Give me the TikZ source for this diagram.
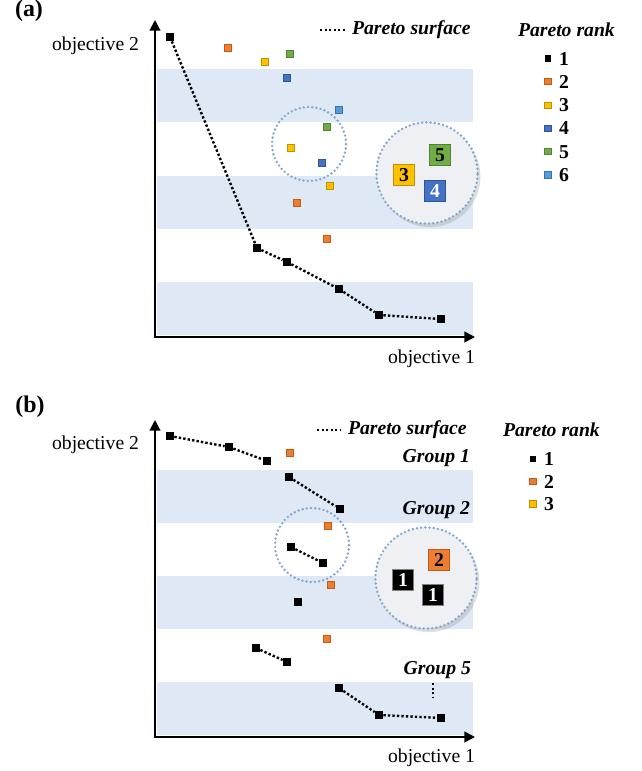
\documentclass[tikz,border=0pt]{standalone}
\usepackage{fontspec}
\setmainfont{Liberation Serif}
\newcommand*{\plotfont}{\fontsize{14}{16}\selectfont}
\newcommand*{\tagfont}{\fontsize{17}{19}\selectfont\bfseries}
\definecolor{O}{HTML}{ED7D31}
\definecolor{Od}{HTML}{C55A11}
\definecolor{Y}{HTML}{FFC000}
\definecolor{Yd}{HTML}{BF9000}
\definecolor{B}{HTML}{4472C4}
\definecolor{Bd}{HTML}{2F5597}
\definecolor{G}{HTML}{70AD47}
\definecolor{Gd}{HTML}{548235}
\definecolor{L}{HTML}{5B9BD5}
\definecolor{Ld}{HTML}{2E75B6}
\definecolor{band}{HTML}{DEE9F5}
\definecolor{ring}{HTML}{7FA6D0}
\definecolor{lens}{HTML}{EEF0F3}
\usepackage{tikz}
\usetikzlibrary{arrows.meta}
\usetikzlibrary{shadows}
\tikzstyle{base}=[inner sep=0pt, outer sep=0pt, x=0.025cm, y=-0.025cm, font=\plotfont]
\tikzstyle{axis}=[black, line width=1.4pt, {Triangle[length=7.5pt,width=7.5pt]}-{Triangle[length=7.5pt,width=7.5pt]}]
\tikzstyle{front}=[black, line width=1.7pt, dash pattern=on 1.7pt off 1.5pt]
\tikzstyle{pt}=[rectangle, minimum size=5pt, line width=.7pt]
\tikzstyle{r1}=[pt, fill=black, minimum size=6.2pt]
\tikzstyle{r2}=[pt, fill=O, draw=Od]
\tikzstyle{r3}=[pt, fill=Y, draw=Yd]
\tikzstyle{r4}=[pt, fill=B, draw=Bd]
\tikzstyle{r5}=[pt, fill=G, draw=Gd]
\tikzstyle{r6}=[pt, fill=L, draw=Ld]
\tikzstyle{leg}=[minimum size=4.3pt]
\tikzstyle{hoop}=[circle, draw=ring, line width=1.9pt, dash pattern=on 0pt off 3pt, line cap=round]
\tikzstyle{glass}=[hoop, fill=lens, minimum size=72pt,
  drop shadow={opacity=.25, shadow xshift=2pt, shadow yshift=-2.5pt}]
\tikzstyle{tag}=[pt, minimum size=15pt, font=\plotfont\bfseries]
\tikzstyle{bi}=[font=\plotfont\bfseries\itshape]

\begin{document}
\begin{tikzpicture}[base]
    \useasboundingbox (0,0) rectangle (641,771);
    % (a) ranks by Pareto surface
    \foreach \t in {69,176,282}
        \fill [band] (157,\t) rectangle (473,\t+53);
    \coordinate (ya) at (155,20);
    \coordinate (oa) at (155,337);
    \coordinate (xa) at (475,337);
    \draw [axis] (ya) -- (oa) -- (xa);
    \node [font=\tagfont] (taga) at (29,11) {(a)};
    \node [anchor=east] (ylaba) at (139,46) {objective 2};
    \node [anchor=east] (xlaba) at (475,359) {objective 1};
    \node [hoop, minimum size=52.6pt] (zooma) at (309,144) {};
    \foreach \n/\x/\y in {1/170/37, 2/257/248, 3/287/262, 4/339/289, 5/379/315, 6/441/319}
        \node [r1] (a\n) at (\x,\y) {};
    \draw [front] (a1) -- (a2) -- (a3) -- (a4) -- (a5) -- (a6);
    \foreach \n/\s/\x/\y in {1/2/228/48, 2/3/265/62, 3/5/290/54, 4/4/287/78, 5/6/339/110, 6/5/327/127,
        7/3/291/148, 8/4/322/163, 9/3/330/186, 10/2/297/203, 11/2/327/239}
        \node [r\s] (pa\n) at (\x,\y) {};
    \node [glass] (lensa) at (427,173) {};
    \node [tag, fill=Y, draw=Yd] (ka3) at (404,175) {3};
    \node [tag, fill=G, draw=Gd] (ka5) at (440,155) {5};
    \node [tag, fill=B, draw=Bd, text=white] (ka4) at (435,191) {4};
    \coordinate (sa1) at (320,30);
    \coordinate (sa2) at (345,30);
    \draw [front] (sa1) -- (sa2);
    \node [bi, anchor=west] (surfa) at (352,30) {Pareto surface};
    \node [bi, anchor=west] (ranka) at (518,30) {Pareto rank};
    \foreach \r/\y in {1/58.5, 2/81.8, 3/105.1, 4/128.4, 5/151.7, 6/175} {
        \node [r\r, leg] (la\r) at (548,\y) {};
        \node [font=\plotfont\bfseries, anchor=west] (na\r) at (559,\y) {\r};
    }
    % (b) ranks by groups
    \foreach \t in {470,576,682}
        \fill [band] (157,\t) rectangle (473,\t+53);
    \coordinate (yb) at (155,420);
    \coordinate (ob) at (155,737);
    \coordinate (xb) at (475,737);
    \draw [axis] (yb) -- (ob) -- (xb);
    \node [font=\tagfont] (tagb) at (30,407) {(b)};
    \node [anchor=east] (ylabb) at (139,445) {objective 2};
    \node [anchor=east] (xlabb) at (475,758) {objective 1};
    \node [hoop, minimum size=52.6pt] (zoomb) at (312,545) {};
    \foreach \n/\x/\y in {1/170/436, 2/229/447, 3/267/461, 4/289/477, 5/340/509, 6/291/547, 7/323/563,
        8/298/602, 9/256/648, 10/287/662, 11/339/688, 12/379/715, 13/441/718}
        \node [r1] (b\n) at (\x,\y) {};
    \draw [front] (b1) -- (b2) -- (b3);
    \draw [front] (b4) -- (b5);
    \draw [front] (b6) -- (b7);
    \draw [front] (b9) -- (b10);
    \draw [front] (b11) -- (b12) -- (b13);
    \foreach \n/\x/\y in {1/290/453, 2/328/526, 3/331/585, 4/327/639}
        \node [r2] (pb\n) at (\x,\y) {};
    \node [glass] (lensb) at (426,578) {};
    \node [tag, fill=O, draw=Od] (kb2) at (439,560) {2};
    \node [tag, fill=black, draw=black!50, text=white] (kb1) at (403,580) {1};
    \node [tag, fill=black, draw=black!50, text=white] (kb1b) at (433,595) {1};
    \coordinate (sb1) at (317,430);
    \coordinate (sb2) at (341,430);
    \draw [front] (sb1) -- (sb2);
    \node [bi, anchor=west] (surfb) at (348,430) {Pareto surface};
    \node [bi, anchor=west] (rankb) at (503,430) {Pareto rank};
    \foreach \r/\y in {1/459, 2/481.5, 3/504} {
        \node [r\r, leg] (lb\r) at (533,\y) {};
        \node [font=\plotfont\bfseries, anchor=west] (nb\r) at (544,\y) {\r};
    }
    \node [bi, anchor=east] (grp1) at (470,458) {Group 1};
    \node [bi, anchor=east] (grp2) at (470,510) {Group 2};
    \node [bi, anchor=east] (grp5) at (471,670) {Group 5};
    \coordinate (g5a) at (433,683);
    \coordinate (g5b) at (433,698);
    \draw [front] (g5a) -- (g5b);
\end{tikzpicture}
\end{document}
